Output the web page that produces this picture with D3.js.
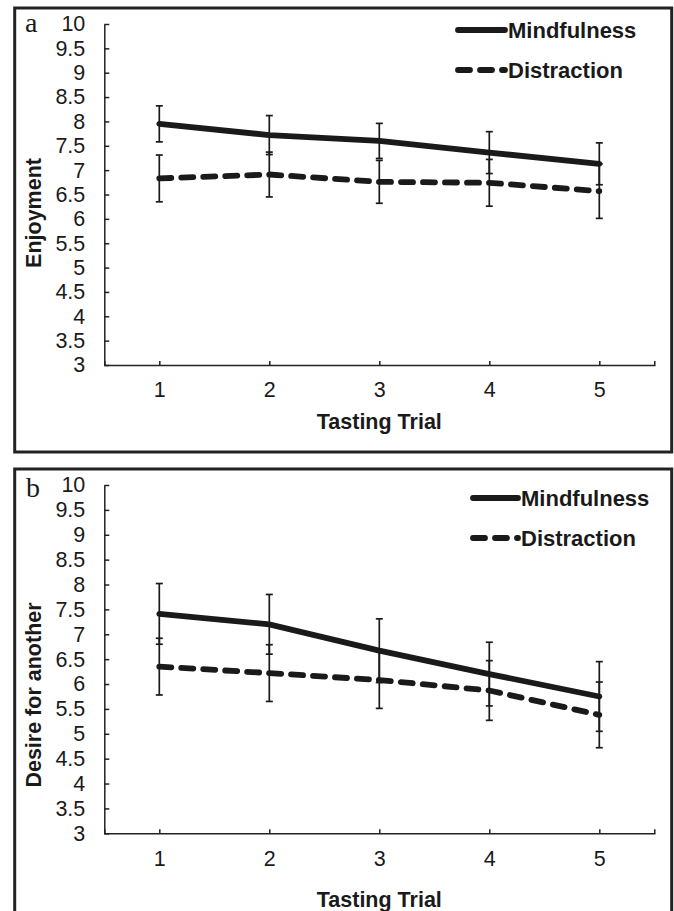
<!DOCTYPE html>
<html>
<head>
<meta charset="utf-8">
<script src="https://cdn.jsdelivr.net/npm/d3@7"></script>
<style>
  body { margin: 0; background: #fff; }
  text { font-family: "Liberation Sans", Arial, sans-serif; fill: #1a1a1a; }
</style>
</head>
<body>
<div id="chart"></div>
<script>
//values
var trials = [1, 2, 3, 4, 5];
var yTicks = [3, 3.5, 4, 4.5, 5, 5.5, 6, 6.5, 7, 7.5, 8, 8.5, 9, 9.5, 10];
var seriesNames = ["Mindfulness", "Distraction"];

//panel a: enjoyment
var enjoyMind = [7.95, 7.72, 7.60, 7.36, 7.13];
var enjoyMindErr = [0.37, 0.40, 0.36, 0.43, 0.43];
var enjoyDist = [6.83, 6.91, 6.76, 6.74, 6.57];
var enjoyDistErr = [0.48, 0.46, 0.44, 0.48, 0.56];

//panel b: desire for another
var desireMind = [7.41, 7.20, 6.67, 6.20, 5.75];
var desireMindErr = [0.61, 0.60, 0.64, 0.64, 0.70];
var desireDist = [6.35, 6.22, 6.08, 5.87, 5.38];
var desireDistErr = [0.57, 0.57, 0.57, 0.60, 0.66];

var w = 674;
var h = 911;
var ink = "#1a1a1a";

var svg = d3.select("#chart").append("svg")
    .attr("width", w)
    .attr("height", h);

//panel a
drawPanel({
    letter: "a", letterX: 25, letterY: 32,
    frameTop: 8, frameBottom: 452,
    top: 24, bottom: 365, left: 104.3, right: 654.3,
    yTitle: "Enjoyment", yTitleY: 213,
    xTitleY: 428.5,
    legendX: 455, legendLen: 52, legendY: [30, 70],
    mind: enjoyMind, mindErr: enjoyMindErr,
    dist: enjoyDist, distErr: enjoyDistErr
});

//panel b
drawPanel({
    letter: "b", letterX: 26, letterY: 496.5,
    frameTop: 469, frameBottom: 940,
    top: 485, bottom: 833.3, left: 104.3, right: 654.3,
    yTitle: "Desire for another", yTitleY: 695,
    xTitleY: 906.5,
    legendX: 470, legendLen: 50, legendY: [498, 538],
    mind: desireMind, mindErr: desireMindErr,
    dist: desireDist, distErr: desireDistErr
});

function drawPanel(p) {
    var g = svg.append("g");

    //frame round the panel
    g.append("rect")
        .attr("x", 14.7)
        .attr("y", p.frameTop)
        .attr("width", 671.7 - 14.7)
        .attr("height", p.frameBottom - p.frameTop)
        .attr("fill", "none")
        .attr("stroke", "#222")
        .attr("stroke-width", 3);

    var x = d3.scaleLinear().domain([0.5, 5.5]).range([p.left, p.right]);
    var y = d3.scaleLinear().domain([3, 10]).range([p.bottom, p.top]);

    //y axis, ticks point inward
    var yAxis = g.append("g")
        .attr("transform", "translate(" + p.left + ",0)")
        .call(d3.axisLeft(y)
            .tickValues(yTicks)
            .tickFormat(d3.format("~g"))
            .tickSizeInner(-5)
            .tickSizeOuter(0)
            .tickPadding(19));

    //x axis, ticks point up
    var xAxis = g.append("g")
        .attr("transform", "translate(0," + p.bottom + ")")
        .call(d3.axisBottom(x)
            .tickValues(trials)
            .tickFormat(d3.format("d"))
            .tickSizeInner(-4)
            .tickSizeOuter(-4)
            .tickPadding(17));

    [yAxis, xAxis].forEach(function(a) {
        a.selectAll("path, line").attr("stroke", "#222").attr("stroke-width", 1.5);
        a.selectAll("text")
            .attr("fill", ink)
            .style("font-size", "21.5px")
            .style("font-family", "'Liberation Sans', Arial, sans-serif");
    });

    //panel letter
    g.append("text")
        .attr("x", p.letterX)
        .attr("y", p.letterY)
        .style("font-family", "'Liberation Serif', 'Times New Roman', serif")
        .style("font-size", "28px")
        .text(p.letter);

    //axis titles
    g.append("text")
        .attr("x", (p.left + p.right) / 2)
        .attr("y", p.xTitleY)
        .attr("text-anchor", "middle")
        .style("font-size", "21.5px")
        .style("font-weight", "bold")
        .text("Tasting Trial");

    g.append("text")
        .attr("transform", "translate(33," + p.yTitleY + ") rotate(-90)")
        .attr("text-anchor", "middle")
        .attr("dy", "0.36em")
        .style("font-size", "21.5px")
        .style("font-weight", "bold")
        .text(p.yTitle);

    var line = d3.line()
        .x(function(d, i) { return x(trials[i]); })
        .y(function(d) { return y(d); });

    //the two series
    var series = [
        {vals: p.mind, err: p.mindErr, dash: null},
        {vals: p.dist, err: p.distErr, dash: "12,10"}
    ];

    series.forEach(function(s) {
        g.append("path")
            .datum(s.vals)
            .attr("d", line)
            .attr("fill", "none")
            .attr("stroke", ink)
            .attr("stroke-width", 5.8)
            .attr("stroke-linecap", "round")
            .attr("stroke-dasharray", s.dash);
    });

    //error bars on top
    series.forEach(function(s) {
        var bars = g.append("g").selectAll("g")
            .data(s.vals)
            .enter()
            .append("g");

        bars.append("line")
            .attr("x1", function(d, i) { return x(trials[i]); })
            .attr("x2", function(d, i) { return x(trials[i]); })
            .attr("y1", function(d, i) { return y(d - s.err[i]); })
            .attr("y2", function(d, i) { return y(d + s.err[i]); });

        [-1, 1].forEach(function(sign) {
            bars.append("line")
                .attr("x1", function(d, i) { return x(trials[i]) - 3.5; })
                .attr("x2", function(d, i) { return x(trials[i]) + 3.5; })
                .attr("y1", function(d, i) { return y(d + sign * s.err[i]); })
                .attr("y2", function(d, i) { return y(d + sign * s.err[i]); });
        });

        bars.selectAll("line")
            .attr("stroke", ink)
            .attr("stroke-width", 1.7);
    });

    //legend
    seriesNames.forEach(function(name, i) {
        var ly = p.legendY[i];
        g.append("line")
            .attr("x1", p.legendX + 3)
            .attr("x2", p.legendX + p.legendLen - 2)
            .attr("y1", ly)
            .attr("y2", ly)
            .attr("stroke", ink)
            .attr("stroke-width", 5.8)
            .attr("stroke-linecap", "round")
            .attr("stroke-dasharray", series[i].dash);

        g.append("text")
            .attr("x", p.legendX + p.legendLen + 1)
            .attr("y", ly)
            .attr("dy", "0.36em")
            .style("font-size", "22px")
            .style("font-weight", "bold")
            .text(name);
    });
}
</script>
</body>
</html>
